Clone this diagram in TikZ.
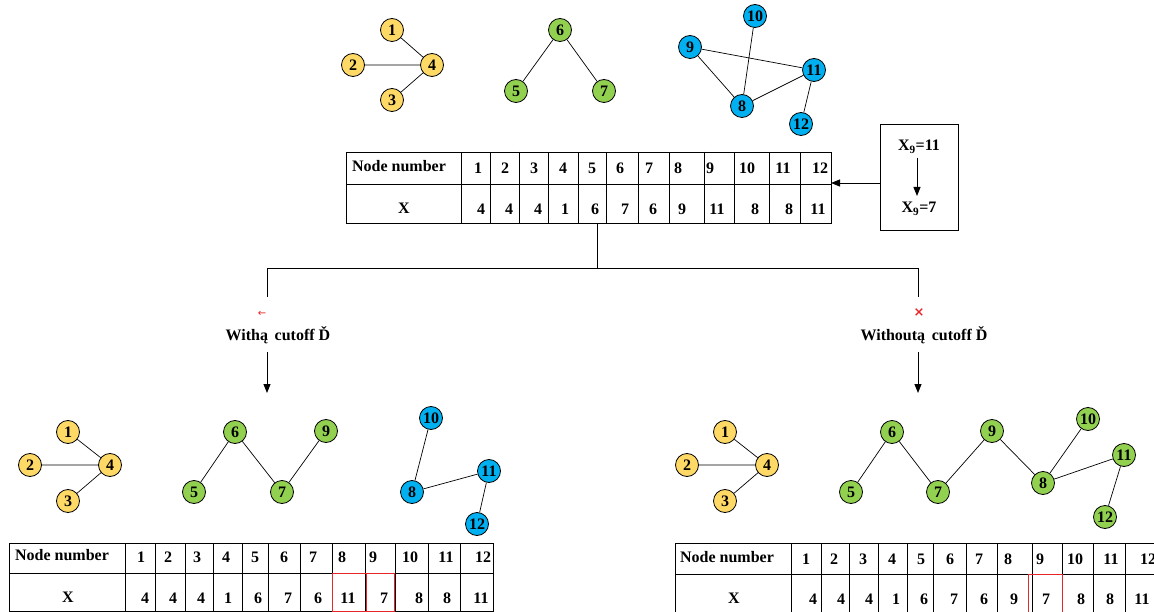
\documentclass[tikz,border=0pt]{standalone}
\usepackage{fontspec}
\setmainfont{Liberation Serif}
\newfontfamily\symfont{DejaVu Sans}
\usetikzlibrary{arrows.meta}
\definecolor{cY}{HTML}{FFD966}
\definecolor{cG}{HTML}{92D050}
\definecolor{cB}{HTML}{00B0F0}
\definecolor{cR}{HTML}{E8262A}
\tikzset{
  gn/.style={circle,draw,line width=0.8pt,minimum size=23pt,inner sep=0pt,font=\bfseries\fontsize{16}{16}\selectfont},
  ynode/.style={gn,fill=cY},
  gnode/.style={gn,fill=cG},
  bnode/.style={gn,fill=cB},
  lnk/.style={line width=0.7pt},
  tl/.style={font=\bfseries\fontsize{16}{16}\selectfont,inner sep=0pt},
  tline/.style={line width=0.8pt},
  arr/.style={line width=0.9pt,-{Triangle[length=9pt,width=7pt]}},
  redbox/.style={draw=cR,line width=0.9pt}
}
\begin{document}
\begin{tikzpicture}[x=1pt,y=-1pt]
\useasboundingbox[fill=white] (0,0) rectangle (1154,612);

% ---------- top graphs ----------
\node[ynode] (t1) at (392,30) {1};
\node[ynode] (t2) at (353,65) {2};
\node[ynode] (t4) at (432,65) {4};
\node[ynode] (t3) at (392,100) {3};
\draw[lnk] (t1)--(t4) (t2)--(t4) (t3)--(t4);
\node[gnode] (t6) at (560,30) {6};
\node[gnode] (t5) at (516,91) {5};
\node[gnode] (t7) at (604,91) {7};
\draw[lnk] (t6)--(t5) (t6)--(t7);
\node[bnode] (t10) at (755,16) {10};
\node[bnode] (t9) at (690,47) {9};
\node[bnode] (t11) at (814,70) {11};
\node[bnode] (t8) at (742,106) {8};
\node[bnode] (t12) at (801,124) {12};
\draw[lnk] (t9)--(t11) (t9)--(t8) (t10)--(t8) (t8)--(t11) (t11)--(t12);

% ---------- top table ----------
\draw[tline] (346,152) rectangle (831,223);
\draw[tline] (346,184) -- (831,184);
\foreach \x in {461,490,519,548,578,606,638,669,704,734,769,800}
  \draw[tline] (\x,152) -- (\x,223);
\node[tl] (tnn) at (399,166) {Node number};
\foreach \x/\t in {478/1,505/2,534/3,563/4,592/5,620/6,649/7,678/8,710/9,747/10,783/11,820/12}
  \node[tl] at (\x,168) {\t};
\node[tl] (tx) at (404,208) {X};
\foreach \x/\t in {481/4,509/4,538/4,565/1,595/6,625/7,653/6,682/9,717/11,755/8,789/8,818/11}
  \node[tl] at (\x,209) {\t};
\coordinate (tabR) at (831,183);
\coordinate (tabB) at (597,223);

% ---------- change box ----------
\node[draw,tline,minimum width=78pt,minimum height=106pt,inner sep=0pt] (box) at (919,177) {};
\node[tl] (xa) at (919,147) {X\textsubscript{9}=11};
\node[tl] (xb) at (919,209) {X\textsubscript{9}=7};
\coordinate (xas) at (917,158);
\coordinate (xbe) at (917,196);
\draw[arr] (xas) -- (xbe);
\draw[arr] (box.west |- tabR) -- (tabR);

% ---------- tree ----------
\coordinate (jn) at (597,268);
\coordinate (jl) at (267,268);
\coordinate (jr) at (918,268);
\coordinate (sl) at (267,297);
\coordinate (sr) at (918,297);
\draw[tline] (tabB) -- (jn);
\draw[tline] (sl) -- (jl) -- (jr) -- (sr);

\node[text=cR,inner sep=0pt,font=\symfont\fontsize{10}{10}\selectfont] (redl) at (262,314) {←};
\node[text=cR,inner sep=0pt,font=\symfont\bfseries\fontsize{13}{13}\selectfont] (redr) at (919,313) {×};
\node[tl] (lw) at (278,335) {Withą\ \,cutoff Ď};
\node[tl] (rw) at (924,335) {Withoutą\ \,cutoff Ď};
\coordinate (al1) at (267,352);
\coordinate (al2) at (267,393);
\coordinate (ar1) at (918,352);
\coordinate (ar2) at (918,393);
\draw[arr] (al1) -- (al2);
\draw[arr] (ar1) -- (ar2);

% ---------- bottom-left graphs ----------
\node[ynode] (l1) at (68,432) {1};
\node[ynode] (l2) at (30,465) {2};
\node[ynode] (l4) at (110,465) {4};
\node[ynode] (l3) at (68,501) {3};
\draw[lnk] (l1)--(l4) (l2)--(l4) (l3)--(l4);
\node[gnode] (l6) at (235,432) {6};
\node[gnode] (l5) at (194,492) {5};
\node[gnode] (l7) at (282,492) {7};
\node[gnode] (l9) at (326,431) {9};
\draw[lnk] (l6)--(l5) (l6)--(l7) (l7)--(l9);
\node[bnode] (l10) at (431,418) {10};
\node[bnode] (l8) at (412,492) {8};
\node[bnode] (l11) at (489,471) {11};
\node[bnode] (l12) at (477,524) {12};
\draw[lnk] (l10)--(l8) (l8)--(l11) (l11)--(l12);

% ---------- bottom-left table ----------
\draw[tline] (9,543) rectangle (493,611);
\draw[tline] (9,573) -- (493,573);
\foreach \x in {125,155,185,213,242,268,300,332,365,395,428,460}
  \draw[tline] (\x,543) -- (\x,611);
\node[tl] (lnn) at (62,555) {Node number};
\foreach \x/\t in {141/1,168/2,197/3,226/4,255/5,284/6,313/7,342/8,373/9,410/10,446/11,483/12}
  \node[tl] at (\x,557) {\t};
\node[tl] (lx) at (68,597) {X};
\foreach \x/\t in {145/4,173/4,201/4,228/1,258/6,288/7,318/6,348/11,384/7,419/8,447/8,481/11}
  \node[tl] at (\x,598) {\t};
\draw[redbox] (332,573) rectangle (366,611);
\draw[redbox] (366,573) rectangle (394,611);

% ---------- bottom-right graphs ----------
\node[ynode] (r1) at (725,432) {1};
\node[ynode] (r2) at (687,465) {2};
\node[ynode] (r4) at (767,465) {4};
\node[ynode] (r3) at (725,501) {3};
\draw[lnk] (r1)--(r4) (r2)--(r4) (r3)--(r4);
\node[gnode] (r6) at (892,432) {6};
\node[gnode] (r5) at (851,492) {5};
\node[gnode] (r7) at (938,492) {7};
\node[gnode] (r9) at (992,431) {9};
\node[gnode] (r8) at (1043,483) {8};
\node[gnode] (r10) at (1088,419) {10};
\node[gnode] (r11) at (1124,455) {11};
\node[gnode] (r12) at (1105,517) {12};
\draw[lnk] (r6)--(r5) (r6)--(r7) (r7)--(r9) (r9)--(r8) (r8)--(r10) (r8)--(r11) (r11)--(r12);

% ---------- bottom-right table ----------
\draw[tline] (675,543) rectangle (1160,612);
\draw[tline] (675,574) -- (1160,574);
\foreach \x in {791,821,849,878,907,933,966,997,1032,1062,1093,1125}
  \draw[tline] (\x,543) -- (\x,612);
\node[tl] (rnn) at (727,557) {Node number};
\foreach \x/\t in {806/1,834/2,863/3,892/4,921/5,950/6,979/7,1008/8,1040/9,1075/10,1111/11,1148/12}
  \node[tl] at (\x,559) {\t};
\node[tl] (rx) at (734,598) {X};
\foreach \x/\t in {813/4,841/4,869/4,896/1,924/6,954/7,984/6,1014/9,1046/7,1081/8,1110/8,1142/11}
  \node[tl] at (\x,599) {\t};
\draw[redbox] (1028,574) rectangle (1062,613);
\end{tikzpicture}
\end{document}
